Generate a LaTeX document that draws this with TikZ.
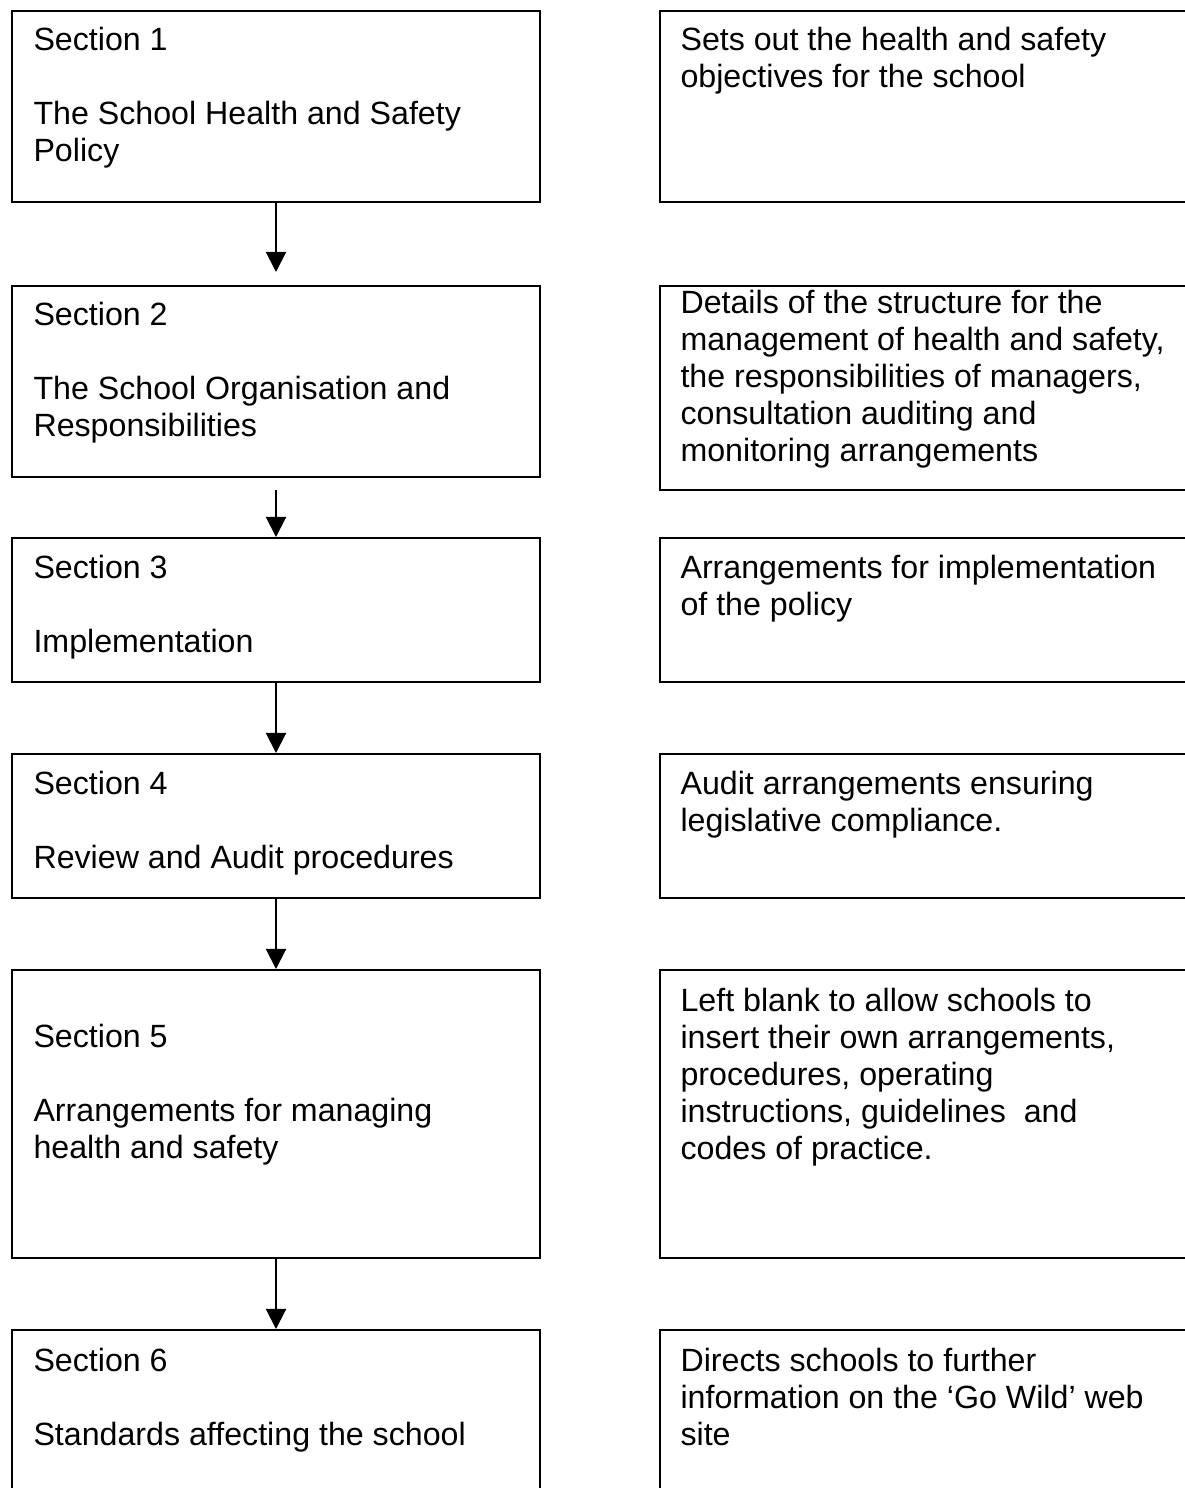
\documentclass[tikz,border=0pt]{standalone}
\usepackage{fontspec}
\setmainfont{Liberation Sans}
\usepackage{tikz}
\usetikzlibrary{arrows.meta}

\begin{document}
\begin{tikzpicture}[x=0.373pt,y=-0.373pt,
  secbox/.style={draw,line width=0.75pt,rectangle,anchor=north west,inner sep=0pt,minimum width=528*0.373pt},
  notebox/.style={draw,line width=0.75pt,rectangle,anchor=north west,inner sep=0pt,minimum width=541*0.373pt},
  boxtext/.style={anchor=north west,align=left,inner sep=0pt,font=\fontsize{12}{13.8}\selectfont,execute at begin node=\strut},
  flow/.style={line width=0.75pt,-{Triangle[width=7.5pt,length=7.5pt]}}]
\useasboundingbox (0,0) rectangle (1185,1488);
\clip (0,0) rectangle (1185,1488);
% left column
\node[secbox,minimum height=191*0.373pt] (sec1) at (11,10) {};
\node[secbox,minimum height=191*0.373pt] (sec2) at (11,285) {};
\node[secbox,minimum height=144*0.373pt] (sec3) at (11,537) {};
\node[secbox,minimum height=144*0.373pt] (sec4) at (11,753) {};
\node[secbox,minimum height=288*0.373pt] (sec5) at (11,969) {};
\node[secbox,minimum height=220*0.373pt] (sec6) at (11,1329) {};
% right column
\node[notebox,minimum height=191*0.373pt] (note1) at (659,10) {};
\node[notebox,minimum height=204*0.373pt] (note2) at (659,285) {};
\node[notebox,minimum height=144*0.373pt] (note3) at (659,537) {};
\node[notebox,minimum height=144*0.373pt] (note4) at (659,753) {};
\node[notebox,minimum height=288*0.373pt] (note5) at (659,969) {};
\node[notebox,minimum height=220*0.373pt] (note6) at (659,1329) {};
% texts
\node[boxtext] (sec1txt) at (33,27) {Section 1\\[13.8pt]The School Health and Safety\\Policy};
\node[boxtext] (sec2txt) at (33,302) {Section 2\\[13.8pt]The School Organisation and\\Responsibilities};
\node[boxtext] (sec3txt) at (33,555) {Section 3\\[13.8pt]Implementation};
\node[boxtext] (sec4txt) at (33,771) {Section 4\\[13.8pt]Review and Audit procedures};
\node[boxtext] (sec5txt) at (33,1024) {Section 5\\[13.8pt]Arrangements for managing\\health and safety};
\node[boxtext] (sec6txt) at (33,1348) {Section 6\\[13.8pt]Standards affecting the school};
\node[boxtext] (note1txt) at (680,27) {Sets out the health and safety\\objectives for the school};
\node[boxtext] (note2txt) at (680,290) {Details of the structure for the\\management of health and safety,\\the responsibilities of managers,\\consultation auditing and\\monitoring arrangements};
\node[boxtext] (note3txt) at (680,555) {Arrangements for implementation\\of the policy};
\node[boxtext] (note4txt) at (680,771) {Audit arrangements ensuring\\legislative compliance.};
\node[boxtext] (note5txt) at (680,988) {Left blank to allow schools to\\insert their own arrangements,\\procedures, operating\\instructions, guidelines\ \ and\\codes of practice.};
\node[boxtext] (note6txt) at (680,1348) {Directs schools to further\\information on the ‘Go Wild’ web\\site};
% arrows
\draw[flow,shorten >=4.85pt] (sec1.south) -- (sec2.north);
\draw[flow,shorten <=4.5pt] (sec2.south) -- (sec3.north);
\draw[flow] (sec3.south) -- (sec4.north);
\draw[flow] (sec4.south) -- (sec5.north);
\draw[flow] (sec5.south) -- (sec6.north);
\end{tikzpicture}
\end{document}
